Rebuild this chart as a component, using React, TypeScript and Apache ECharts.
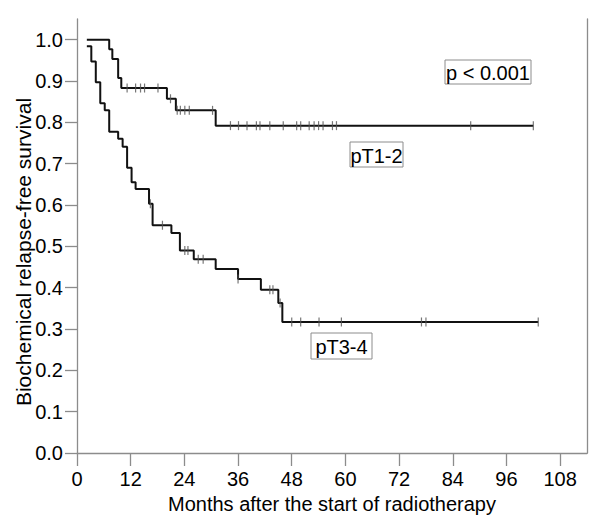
import React, { useEffect, useRef } from "react";
import * as echarts from "echarts";

const xTicks = [0, 12, 24, 36, 48, 60, 72, 84, 96, 108];
const yTicks = [0, 0.1, 0.2, 0.3, 0.4, 0.5, 0.6, 0.7, 0.8, 0.9, 1.0];

// pT1-2 group: event times (months) and survival after each step
const pT12Times = [2.2, 7.2, 7.9, 9.2, 9.9, 20.1, 22.1, 31.0, 102.0];
const pT12Surv = [1.0, 0.977, 0.953, 0.907, 0.883, 0.857, 0.829, 0.792, 0.792];
const pT12Censored = [
  11.2, 13.1, 14.2, 15.1, 18.1, 20.9, 22.4, 23.1, 24.1, 25.1, 30.3, 34.3, 36.1, 38.0,
  40.1, 40.9, 43.1, 46.1, 49.1, 50.0, 51.9, 53.0, 54.0, 55.0, 57.1, 58.0, 88.0, 102.0,
];

// pT3-4 group
const pT34Times = [
  2.2, 3.2, 4.2, 5.2, 6.2, 7.2, 9.2, 10.2, 11.2, 12.2, 13.1, 16.1, 16.9, 21.1, 23.0, 26.1,
  31.0, 36.0, 41.1, 45.0, 45.9, 103.1,
];
const pT34Surv = [
  0.984, 0.947, 0.897, 0.846, 0.829, 0.777, 0.76, 0.741, 0.69, 0.655, 0.639, 0.603, 0.551,
  0.532, 0.49, 0.469, 0.445, 0.421, 0.395, 0.363, 0.317, 0.317,
];
const pT34Censored = [
  16.4, 19.1, 24.1, 24.8, 27.1, 28.2, 36.0, 43.1, 43.8, 45.4, 48.0, 50.0, 54.1, 59.1, 77.0,
  78.0, 103.1,
];

const xName = "Months after the start of radiotherapy";
const yName = "Biochemical relapse-free survival";

const FONT = "'Liberation Sans', Arial, sans-serif";

function survivalAt(times: number[], surv: number[], t: number): number {
  let s = surv[0];
  for (let i = 0; i < times.length; i++) {
    if (times[i] <= t + 1e-9) s = surv[i];
  }
  return s;
}

function stepData(times: number[], surv: number[]) {
  return times.map((t, i) => [t, surv[i]]);
}

function censorData(times: number[], surv: number[], cens: number[]) {
  return cens.map((t) => [t, survivalAt(times, surv, t)]);
}

function boxLabel(text: string, x: number, y: number, w: number, h: number) {
  return {
    type: "group",
    children: [
      {
        type: "rect",
        shape: { x, y, width: w, height: h },
        style: { fill: "#fff", stroke: "#8c8c8c", lineWidth: 1 },
        z: 10,
      },
      {
        type: "text",
        x: x + w / 2,
        y: y + h / 2 + 1,
        style: {
          text,
          font: `20px ${FONT}`,
          fill: "#000",
          align: "center",
          verticalAlign: "middle",
          textAlign: "center",
          textVerticalAlign: "middle",
        },
        z: 11,
      },
    ],
  };
}

export default function App() {
  const ref = useRef<HTMLDivElement>(null);

  useEffect(() => {
    document.body.style.margin = "0";
    if (!ref.current) return;
    const chart = echarts.init(ref.current, undefined, { renderer: "svg" });
    const axisGray = "#8c8c8c";
    chart.setOption({
      animation: false,
      backgroundColor: "#fff",
      grid: { left: 77, right: 13, top: 19, bottom: 71, containLabel: false },
      xAxis: {
        type: "value",
        min: 0,
        max: 114,
        interval: 12,
        name: xName,
        nameLocation: "middle",
        nameGap: 41,
        nameTextStyle: { fontFamily: FONT, fontSize: 20, color: "#000" },
        axisLine: { show: true, onZero: false, lineStyle: { color: axisGray, width: 1.3 } },
        axisTick: {
          show: true,
          length: 13,
          customValues: xTicks,
          lineStyle: { color: axisGray, width: 1.3 },
        },
        axisLabel: {
          customValues: xTicks,
          margin: 16,
          fontFamily: FONT,
          fontSize: 20,
          color: "#000",
        },
        splitLine: { show: false },
      },
      yAxis: [
        {
          type: "value",
          min: 0,
          max: 1.05,
          interval: 0.1,
          axisLine: { show: true, onZero: false, lineStyle: { color: axisGray, width: 1.3 } },
          axisTick: {
            show: true,
            length: 12,
            customValues: yTicks,
            lineStyle: { color: axisGray, width: 1.3 },
          },
          axisLabel: {
            customValues: yTicks,
            margin: 14,
            fontFamily: FONT,
            fontSize: 20,
            color: "#000",
            formatter: (v: number) => v.toFixed(1),
          },
          splitLine: { show: false },
        },
        {
          type: "value",
          position: "right",
          min: 0,
          max: 1.05,
          axisLine: { show: true, onZero: false, lineStyle: { color: axisGray, width: 1.3 } },
          axisTick: { show: false },
          axisLabel: { show: false },
          splitLine: { show: false },
        },
      ],
      series: [
        {
          name: "pT1-2",
          type: "line",
          step: "end",
          data: stepData(pT12Times, pT12Surv),
          showSymbol: false,
          lineStyle: { color: "#111", width: 2 },
          z: 3,
        },
        {
          name: "pT3-4",
          type: "line",
          step: "end",
          data: stepData(pT34Times, pT34Surv),
          showSymbol: false,
          lineStyle: { color: "#111", width: 2 },
          z: 3,
        },
        {
          name: "pT1-2 censored",
          type: "scatter",
          data: censorData(pT12Times, pT12Surv, pT12Censored),
          symbol: "rect",
          symbolSize: [1.2, 9],
          itemStyle: { color: "#555" },
          z: 4,
        },
        {
          name: "pT3-4 censored",
          type: "scatter",
          data: censorData(pT34Times, pT34Surv, pT34Censored),
          symbol: "rect",
          symbolSize: [1.2, 9],
          itemStyle: { color: "#555" },
          z: 4,
        },
      ],
      graphic: [
        {
          type: "text",
          x: 23,
          y: 252,
          rotation: Math.PI / 2,
          style: {
            text: yName,
            font: `21px ${FONT}`,
            fill: "#000",
            align: "center",
            verticalAlign: "middle",
            textAlign: "center",
            textVerticalAlign: "middle",
          },
        },
        boxLabel("p < 0.001", 445, 60, 86, 24),
        boxLabel("pT1-2", 350, 142, 53, 25),
        boxLabel("pT3-4", 311, 333, 61, 26),
      ],
    });
    return () => chart.dispose();
  }, []);

  return <div ref={ref} style={{ width: 600, height: 524 }} />;
}
